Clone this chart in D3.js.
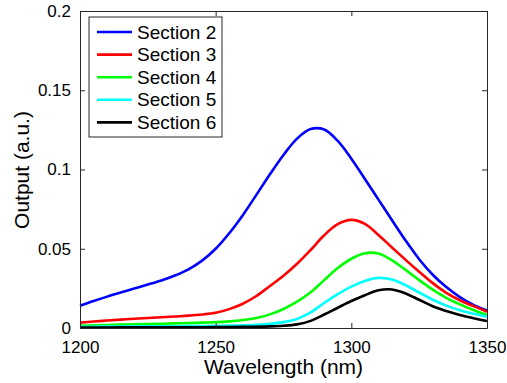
<!DOCTYPE html>
<html>
<head>
<meta charset="utf-8">
<script src="https://cdn.jsdelivr.net/npm/d3@7"></script>
<style>
  body { margin: 0; background: #fff; }
  svg { display: block; font-family: "Liberation Sans", Arial, sans-serif; }
</style>
</head>
<body>
<figure id="chart" style="margin:0"></figure>
<script>
// wavelength samples (nm)
const wavelength = [1200, 1205, 1210, 1215, 1220, 1225, 1230, 1235, 1240, 1245, 1250,
  1255, 1260, 1265, 1270, 1275, 1280, 1285, 1290, 1295, 1300,
  1305, 1310, 1315, 1320, 1325, 1330, 1335, 1340, 1345, 1350];

const section2 = [0.0140, 0.0170, 0.0198, 0.0224, 0.0249, 0.0274, 0.0300, 0.0331, 0.0370, 0.0425, 0.0500,
  0.0598, 0.0712, 0.0840, 0.0970, 0.1092, 0.1195, 0.1255, 0.1252, 0.1180, 0.1068,
  0.0940, 0.0810, 0.0680, 0.0552, 0.0434, 0.0336, 0.0258, 0.0195, 0.0145, 0.0110];
const section3 = [0.0034, 0.0041, 0.0047, 0.0053, 0.0058, 0.0063, 0.0068, 0.0073, 0.0078, 0.0085, 0.0096,
  0.0119, 0.0153, 0.0202, 0.0265, 0.0330, 0.0405, 0.0492, 0.0585, 0.0655, 0.0682,
  0.0657, 0.0587, 0.0508, 0.0430, 0.0355, 0.0283, 0.0222, 0.0175, 0.0138, 0.0103];
const section4 = [0.0015, 0.0017, 0.0019, 0.0021, 0.0023, 0.0025, 0.0027, 0.0029, 0.0031, 0.0034, 0.0037,
  0.0042, 0.0050, 0.0063, 0.0086, 0.0120, 0.0166, 0.0225, 0.0302, 0.0378, 0.0437,
  0.0472, 0.0470, 0.0427, 0.0367, 0.0302, 0.0242, 0.0190, 0.0149, 0.0114, 0.0082];
const section5 = [0.0008, 0.0008, 0.0009, 0.0009, 0.0010, 0.0010, 0.0011, 0.0011, 0.0012, 0.0013, 0.0014,
  0.0015, 0.0017, 0.0020, 0.0026, 0.0037, 0.0057, 0.0098, 0.0158, 0.0213, 0.0261,
  0.0297, 0.0316, 0.0306, 0.0270, 0.0224, 0.0178, 0.0141, 0.0112, 0.0090, 0.0071];
const section6 = [0.0003, 0.0003, 0.0003, 0.0004, 0.0004, 0.0004, 0.0004, 0.0005, 0.0005, 0.0005, 0.0006,
  0.0006, 0.0007, 0.0008, 0.0010, 0.0014, 0.0023, 0.0045, 0.0085, 0.0128, 0.0170,
  0.0207, 0.0238, 0.0243, 0.0218, 0.0178, 0.0137, 0.0107, 0.0082, 0.0062, 0.0044];

const seriesNames = ["Section 2", "Section 3", "Section 4", "Section 5", "Section 6"];
const seriesColors = ["#0000ff", "#ff0000", "#00ff00", "#00ffff", "#000000"];
const seriesValues = [section2, section3, section4, section5, section6];

const xTicks = [1200, 1250, 1300, 1350];
const yTicks = [0, 0.05, 0.1, 0.15, 0.2];

const width = 507, height = 383;
const margin = { top: 11, right: 20, bottom: 55, left: 80 };

const svg = d3.select("#chart").append("svg")
  .attr("width", width)
  .attr("height", height);

const x = d3.scaleLinear().domain([1200, 1350]).range([margin.left, width - margin.right]);
const y = d3.scaleLinear().domain([0, 0.2]).range([height - margin.bottom, margin.top]);

const axisColor = "#262626";
const tickLen = 5;

// curves
const line = d3.line()
  .x((d, i) => x(wavelength[i]))
  .y(d => y(d))
  .curve(d3.curveCatmullRom.alpha(0.5));

svg.append("g")
  .selectAll("path")
  .data(seriesValues)
  .join("path")
  .attr("fill", "none")
  .attr("stroke", (d, i) => seriesColors[i])
  .attr("stroke-width", 2.6)
  .attr("stroke-linejoin", "round")
  .attr("d", line);

// axes (box with inward ticks on all sides)
const styleAxis = g => {
  g.select(".domain").attr("stroke", axisColor);
  g.selectAll(".tick line").attr("stroke", axisColor);
  g.selectAll(".tick text").attr("fill", "#000").attr("font-size", 17);
};
const fmtY = d => d === 0 ? "0" : String(d);

svg.append("g")
  .attr("transform", `translate(0,${height - margin.bottom})`)
  .call(d3.axisBottom(x).tickValues(xTicks).tickFormat(d3.format("d"))
    .tickSizeInner(-tickLen).tickSizeOuter(0).tickPadding(13))
  .call(styleAxis);

svg.append("g")
  .attr("transform", `translate(0,${margin.top})`)
  .call(d3.axisTop(x).tickValues(xTicks).tickFormat("")
    .tickSizeInner(-tickLen).tickSizeOuter(0))
  .call(styleAxis);

svg.append("g")
  .attr("transform", `translate(${margin.left},0)`)
  .call(d3.axisLeft(y).tickValues(yTicks).tickFormat(fmtY)
    .tickSizeInner(-tickLen).tickSizeOuter(0).tickPadding(9))
  .call(styleAxis);

svg.append("g")
  .attr("transform", `translate(${width - margin.right},0)`)
  .call(d3.axisRight(y).tickValues(yTicks).tickFormat("")
    .tickSizeInner(-tickLen).tickSizeOuter(0))
  .call(styleAxis);

svg.selectAll(".domain").attr("stroke-width", 1);

// axis titles
svg.append("text")
  .attr("x", (margin.left + width - margin.right) / 2)
  .attr("y", 374)
  .attr("text-anchor", "middle")
  .attr("font-size", 21)
  .text("Wavelength (nm)");

svg.append("text")
  .attr("transform", `translate(29,170) rotate(-90)`)
  .attr("text-anchor", "middle")
  .attr("font-size", 21)
  .text("Output (a.u.)");

// legend
const legend = svg.append("g").attr("transform", "translate(89,17)");
legend.append("rect")
  .attr("width", 133).attr("height", 120)
  .attr("fill", "#fff").attr("stroke", axisColor);

const items = legend.selectAll("g.item")
  .data(seriesNames)
  .join("g")
  .attr("class", "item")
  .attr("transform", (d, i) => `translate(0,${15 + i * 22.6})`);

items.append("line")
  .attr("x1", 8).attr("x2", 43)
  .attr("stroke", (d, i) => seriesColors[i])
  .attr("stroke-width", 2.6);

items.append("text")
  .attr("x", 48)
  .attr("dy", "0.35em")
  .attr("font-size", 19)
  .text(d => d);
</script>
</body>
</html>
